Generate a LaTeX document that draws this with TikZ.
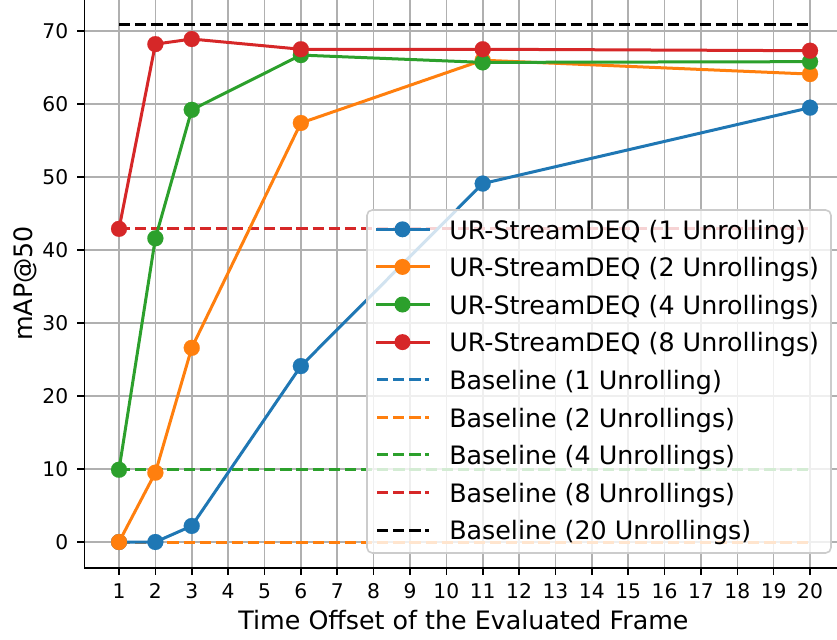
\documentclass[tikz,border=0pt]{standalone}
\usepackage{fontspec}
\setmainfont{DejaVu Sans}
\definecolor{tabblue}{HTML}{1F77B4}
\definecolor{taborange}{HTML}{FF7F0E}
\definecolor{tabgreen}{HTML}{2CA02C}
\definecolor{tabred}{HTML}{D62728}
\definecolor{gridgray}{HTML}{B0B0B0}
\definecolor{legendedge}{HTML}{CCCCCC}
\begin{document}
\begin{tikzpicture}[x=0.75pt, y=-0.75pt,
  gridline/.style={draw=gridgray, line width=1.2pt},
  spine/.style={draw=black, line width=1.2pt},
  tickmark/.style={draw=black, line width=1.2pt},
  ticklabel/.style={font=\fontsize{15.2}{18}\selectfont, inner sep=0pt},
  axlabel/.style={font=\fontsize{19}{22}\selectfont, inner sep=0pt},
  urline/.style={line width=2.25pt, line cap=rect, line join=round,
    mark=*, mark size=6pt, mark options={line width=0.1pt, solid}},
  basedash/.style={line width=2.25pt, dash pattern=on 8.45pt off 3.65pt},
  legendbox/.style={draw=legendedge, line width=1.2pt, fill=white,
    fill opacity=0.8, rounded corners=4pt},
  legtext/.style={font=\fontsize{19}{22}\selectfont, inner sep=0pt}
]
\useasboundingbox (0,0) rectangle (837,639);

\begin{scope}[shift={(82.63,542)}, x=27.2775pt, y=5.475pt]
\foreach \i in {1,...,20} {
  \draw[gridline] (\i,-3.54) -- (\i,74.34);
  \draw[tickmark] (\i,-3.54) -- ++(0,-5.25pt);
  \node[ticklabel, anchor=base] (xt\i) at (\i,-7.74) {\i};
}
\foreach \v in {0,10,...,70} {
  \draw[gridline] (0.05,\v) -- (20.95,\v);
  \draw[tickmark] (0.05,\v) -- ++(-5.25pt,0);
  \node[ticklabel, anchor=east, xshift=-12pt] (yt\v) at (0.05,\v) {\v};
}

\draw[basedash, tabblue] (1,0) -- (20,0);
\draw[basedash, taborange] (1,0) -- (20,0);
\draw[basedash, tabgreen] (1,9.9) -- (20,9.9);
\draw[basedash, tabred] (1,42.9) -- (20,42.9);
\draw[basedash, black] (1,70.9) -- (20,70.9);

\draw[urline, tabblue] plot coordinates
  {(1,0) (2,0) (3,2.2) (6,24.1) (11,49.1) (20,59.5)};
\draw[urline, taborange] plot coordinates
  {(1,0) (2,9.5) (3,26.6) (6,57.4) (11,66.0) (20,64.1)};
\draw[urline, tabgreen] plot coordinates
  {(1,9.9) (2,41.6) (3,59.2) (6,66.7) (11,65.7) (20,65.8)};
\draw[urline, tabred] plot coordinates
  {(1,42.9) (2,68.2) (3,68.9) (6,67.5) (11,67.5) (20,67.3)};

\draw[spine] (0.05,-3.54) rectangle (20.95,74.34);
\end{scope}

\node[axlabel, anchor=base] (xlab) at (463.5,629) {Time Offset of the Evaluated Frame};
\node[axlabel, anchor=base, rotate=90] (ylab) at (32,283.5) {mAP@50};

\draw[legendbox] (367,210) rectangle (831,553);
\foreach \i/\col/\txt in {0/tabblue/{UR-StreamDEQ (1 Unrolling)},
    1/taborange/{UR-StreamDEQ (2 Unrollings)},
    2/tabgreen/{UR-StreamDEQ (4 Unrollings)},
    3/tabred/{UR-StreamDEQ (8 Unrollings)}} {
  \pgfmathsetmacro\ly{229.3+37.6*\i}
  \draw[line width=2.25pt, line cap=rect, \col] (377,\ly) -- (428.5,\ly);
  \fill[\col] (402.5,\ly) circle[radius=6pt];
  \node[legtext, anchor=base west] (leg\i) at (449,\ly+9.7) {\txt};
}
\foreach \i/\col/\txt in {4/tabblue/{Baseline (1 Unrolling)},
    5/taborange/{Baseline (2 Unrollings)},
    6/tabgreen/{Baseline (4 Unrollings)},
    7/tabred/{Baseline (8 Unrollings)},
    8/black/{Baseline (20 Unrollings)}} {
  \pgfmathsetmacro\ly{229.3+37.6*\i}
  \draw[basedash, \col] (377,\ly) -- (428.5,\ly);
  \node[legtext, anchor=base west] (leg\i) at (449,\ly+9.7) {\txt};
}
\end{tikzpicture}
\end{document}
